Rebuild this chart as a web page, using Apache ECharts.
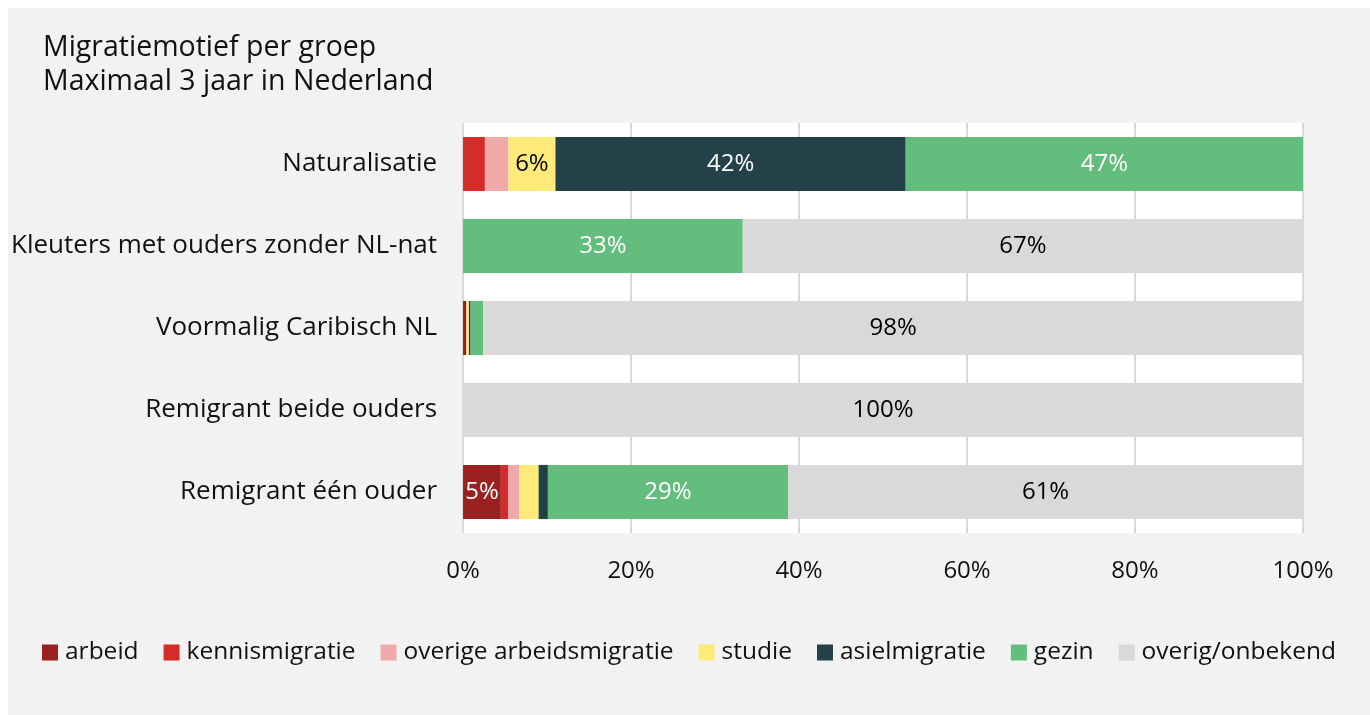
<!DOCTYPE html>
<html>
<head>
<meta charset="utf-8">
<script src="https://cdn.jsdelivr.net/npm/echarts@6/dist/echarts.min.js"></script>
<style>
  html, body { margin: 0; padding: 0; background: #ffffff; }
  #chart { position: absolute; left: 8px; top: 8px; width: 1362px; height: 707px; background: #f2f2f2; }
</style>
</head>
<body>
<div id="chart"></div>
<script>
// categorieen (van boven naar beneden)
var groepen = ['Naturalisatie', 'Kleuters met ouders zonder NL-nat', 'Voormalig Caribisch NL', 'Remigrant beide ouders', 'Remigrant één ouder'];
var motieven = ['arbeid', 'kennismigratie', 'overige arbeidsmigratie', 'studie', 'asielmigratie', 'gezin', 'overig/onbekend'];
var kleuren = ['#9b2121', '#d42b2b', '#f0a9a9', '#ffe978', '#244149', '#63be7e', '#d9d9d9'];
var labelKleur = ['#ffffff', '#ffffff', '#000000', '#000000', '#ffffff', '#ffffff', '#000000'];

// percentages per motief, in volgorde van groepen
var arbeid        = [0,   0,    0.4, 0,   4.5];
var kennis        = [2.6, 0,    0,   0,   0.9];
var overigArbeid  = [2.8, 0,    0,   0,   1.3];
var studie        = [5.6, 0,    0.3, 0,   2.3];
var asiel         = [41.7, 0,   0.2, 0,   1.1];
var gezin         = [47.3, 33.3, 1.5, 0,  28.6];
var overig        = [0,   66.7, 97.6, 100, 61.3];
var reeksen = [arbeid, kennis, overigArbeid, studie, asiel, gezin, overig];

var xTicks = [0, 20, 40, 60, 80, 100];

var font = '"Open Sans", "Noto Sans", sans-serif';

var myChart = echarts.init(document.getElementById('chart'));

var series = motieven.map(function (naam, i) {
    return {
        name: naam,
        type: 'bar',
        stack: 'totaal',
        barCategoryGap: '34%',
        itemStyle: { color: kleuren[i] },
        label: {
            show: true,
            position: 'inside',
            color: labelKleur[i],
            fontFamily: font,
            fontSize: 24,
            formatter: function (p) {
                return p.value >= 4 ? Math.round(p.value) + '%' : '';
            }
        },
        data: reeksen[i]
    };
});

var option = {
    animation: false,
    textStyle: { fontFamily: font },
    title: {
        text: 'Migratiemotief per groep\nMaximaal 3 jaar in Nederland',
        left: 30,
        top: 18,
        textStyle: { fontFamily: font, fontSize: 28.5, fontWeight: 'normal', color: '#111', lineHeight: 34 }
    },
    legend: {
        data: motieven,
        bottom: 45,
        left: 'center',
        itemWidth: 16,
        itemHeight: 16,
        itemGap: 25,
        icon: 'rect',
        textStyle: { fontFamily: font, fontSize: 24.5, color: '#111', padding: [0, 0, 0, 2] }
    },
    grid: {
        left: 454,
        top: 115,
        width: 841,
        height: 410,
        show: true,
        backgroundColor: '#ffffff',
        borderWidth: 0
    },
    xAxis: {
        type: 'value',
        min: 0,
        max: 100,
        interval: 20,
        axisLine: { show: false },
        axisTick: { show: false },
        splitLine: { show: true, lineStyle: { color: '#d9d9d9', width: 2 } },
        axisLabel: {
            margin: 26,
            fontFamily: font,
            fontSize: 24,
            color: '#111',
            formatter: function (v) { return xTicks.indexOf(v) >= 0 ? v + '%' : ''; }
        }
    },
    yAxis: {
        type: 'category',
        inverse: true,
        data: groepen,
        axisLine: { show: false },
        axisTick: { show: false },
        axisLabel: { margin: 26, fontFamily: font, fontSize: 26, color: '#111' }
    },
    series: series
};

myChart.setOption(option);
window.onresize = myChart.resize;
</script>
</body>
</html>
